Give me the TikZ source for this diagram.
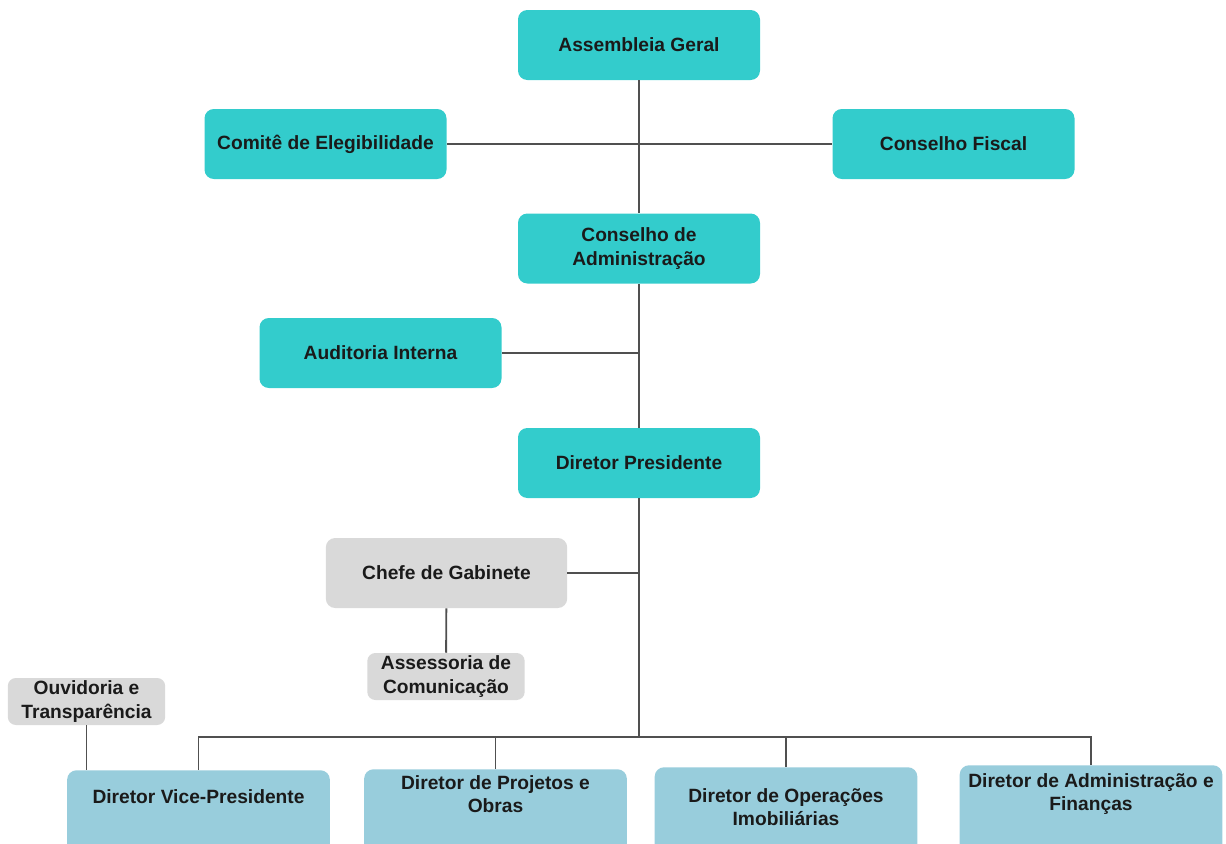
\documentclass[tikz,border=0pt]{standalone}
\usepackage{fontspec}
\setmainfont{Liberation Sans}
\usepackage{xcolor}
\usepackage{tikz}
\definecolor{boardteal}{HTML}{33CCCC}
\definecolor{staffgray}{HTML}{D9D9D9}
\definecolor{dirblue}{HTML}{98CDDC}
\definecolor{linkgray}{HTML}{505050}
\definecolor{inkblack}{HTML}{1A1A1A}

\begin{document}
\begin{tikzpicture}[x=0.75pt, y=-0.75pt,
  every node/.style={font=\bfseries\fontsize{14.4pt}{17.4pt}\selectfont, text=inkblack, align=center},
  board/.style={fill=boardteal, rounded corners=7pt, minimum width=181.5pt, minimum height=52.5pt, inner sep=0pt},
  staff/.style={fill=staffgray, rounded corners=7pt, minimum width=181pt, minimum height=52.5pt, inner sep=0pt},
  smallstaff/.style={fill=staffgray, rounded corners=6pt, minimum width=118pt, minimum height=35.25pt, inner sep=0pt},
  dirbox/.style={fill=dirblue, rounded corners=7pt, minimum width=197pt, anchor=north, inner xsep=0pt, inner ysep=0pt},
  link/.style={draw=linkgray, line width=1.4pt}]
  \clip (0,0) rectangle (1226,843);
  \useasboundingbox (0,0) rectangle (1226,843);
  % governance
  \node[board] (assembleia) at (639,45) {Assembleia Geral};
  \node[board] (comite) at (325.5,144) {Comitê de Elegibilidade};
  \node[board] (fiscal) at (953.5,144) {Conselho Fiscal};
  \node[board] (conselho) at (639,248.5) {Conselho de\\Administração};
  \node[board] (auditoria) at (380.5,353) {Auditoria Interna};
  \node[board] (presidente) at (639,463) {Diretor Presidente};
  % staff
  \node[staff] (chefe) at (446.5,573) {Chefe de Gabinete};
  \node[smallstaff] (assessoria) at (446,676.5) {Assessoria de\\Comunicação};
  \node[smallstaff] (ouvidoria) at (86.5,701.5) {Ouvidoria e\\Transparência};
  % directors
  \node[dirbox, text height=25.1pt, text depth=49.9pt] (vice) at (198.5,770) {Diretor Vice-Presidente};
  \node[dirbox, text height=32.6pt, text depth=43.1pt] (projetos) at (495.5,769) {Diretor de Projetos e\\Obras};
  \node[dirbox, text height=43.9pt, text depth=33.4pt] (operacoes) at (786,767) {Diretor de Operações\\Imobiliárias};
  \node[dirbox, text height=34.1pt, text depth=44.6pt] (adm) at (1091,765) {Diretor de Administração e\\Finanças};
  \coordinate (bus) at (639,737);
  % lines
  \draw[link] (assembleia) -- (conselho);
  \draw[link] (comite) -- (fiscal);
  \draw[link] (conselho) -- (presidente);
  \draw[link] (auditoria.east) -- (auditoria.east -| conselho.south);
  \draw[link] (presidente.south) -- (bus);
  \draw[link] (chefe.east) -- (chefe.east -| presidente.south);
  \draw[link] (chefe) -- (assessoria);
  \draw[link] (ouvidoria.south) -- (ouvidoria.south |- vice.north);
  \draw[link] (vice.north) |- (bus) -| (adm.north);
  \draw[link] (projetos.north) -- (projetos.north |- bus);
  \draw[link] (operacoes.north) -- (operacoes.north |- bus);
\end{tikzpicture}
\end{document}
